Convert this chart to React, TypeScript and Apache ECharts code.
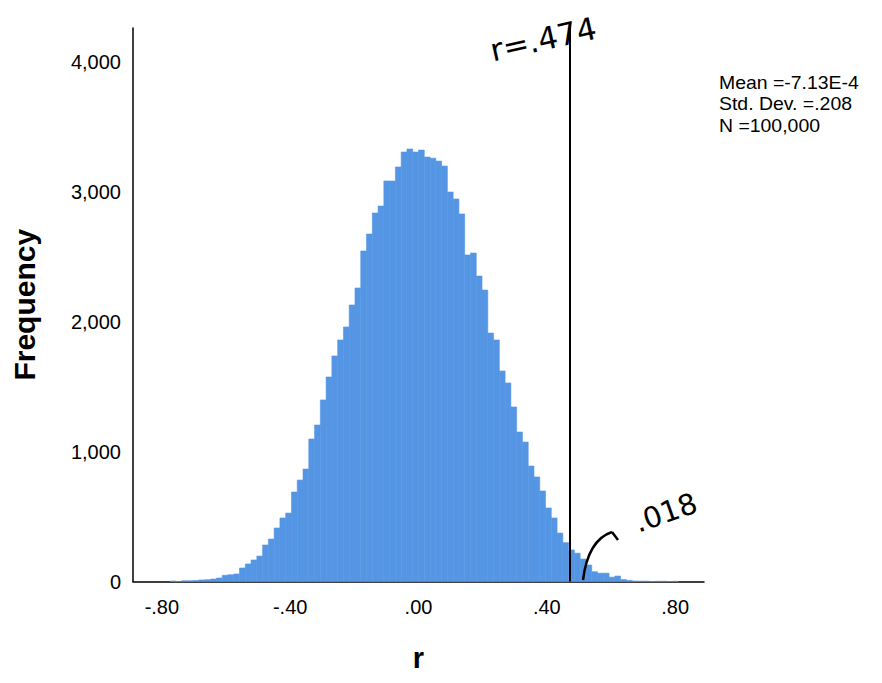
import React, { useEffect, useRef } from "react";
import * as echarts from "echarts";

// Histogram of r (bin width .018), counts per bin
const binWidth = 0.018;
const firstBinStart = -0.774;
const binCounts = [
  4, 0, 6, 6, 8, 12, 14, 19, 27, 48, 52, 58, 104, 135, 166, 196, 281, 327, 412, 489,
  527, 689, 781, 866, 1097, 1205, 1398, 1575, 1737, 1860, 1960, 2129, 2260, 2545, 2676,
  2837, 2891, 3084, 3084, 3192, 3307, 3330, 3307, 3322, 3268, 3260, 3237, 3199, 2999,
  2945, 2830, 2514, 2529, 2352, 2244, 1913, 1860, 1621, 1529, 1344, 1151, 1074, 889,
  805, 697, 566, 489, 373, 299, 243, 218, 173, 127, 75, 64, 64, 33, 42, 15, 9, 4, 3, 3,
  0, 2, 2, 0, 2,
];
const xTickValues = [-0.8, -0.4, 0, 0.4, 0.8];
const yTickValues = [0, 1000, 2000, 3000, 4000];
const observedR = 0.474;
const statsLines = ["Mean =-7.13E-4", "Std. Dev. =.208", "N =100,000"];
const FONT = "'Liberation Sans', Arial, sans-serif";

export default function App() {
  const ref = useRef<HTMLDivElement>(null);
  useEffect(() => {
    if (!ref.current) return;
    const chart = echarts.init(ref.current, null, { renderer: "svg" });
    const data = binCounts.map((c, i) => [firstBinStart + i * binWidth, c]);
    chart.setOption({
      animation: false,
      backgroundColor: "#ffffff",
      grid: { left: 133, right: 178, top: 28, bottom: 101.5 },
      xAxis: {
        type: "value",
        min: -0.89,
        max: 0.89,
        name: "r",
        nameLocation: "middle",
        nameGap: 62,
        nameTextStyle: { fontSize: 29, fontWeight: "bold", color: "#000", fontFamily: FONT },
        axisLine: { show: true, onZero: false, lineStyle: { color: "#000", width: 1.5 } },
        axisTick: { show: false },
        splitLine: { show: false },
        axisLabel: {
          customValues: xTickValues,
          margin: 15,
          fontSize: 20,
          color: "#000",
          fontFamily: FONT,
          formatter: (v: number) => (v < 0 ? "-" : "") + Math.abs(v).toFixed(2).replace(/^0/, ""),
        },
      },
      yAxis: {
        type: "value",
        min: 0,
        max: 4262,
        name: "Frequency",
        nameLocation: "middle",
        nameGap: 94,
        nameRotate: 90,
        nameTextStyle: { fontSize: 30, fontWeight: "bold", color: "#000", fontFamily: FONT },
        axisLine: { show: true, onZero: false, lineStyle: { color: "#000", width: 1.5 } },
        axisTick: { show: false },
        splitLine: { show: false },
        axisLabel: {
          customValues: yTickValues,
          margin: 12,
          fontSize: 20,
          color: "#000",
          fontFamily: FONT,
          formatter: (v: number) => v.toLocaleString("en-US"),
        },
      },
      series: [
        {
          type: "custom",
          data,
          encode: { x: 0, y: 1 },
          renderItem: (params: any, api: any) => {
            const x0 = api.value(0);
            const top = api.coord([x0, api.value(1)]);
            const bottom = api.coord([x0 + binWidth, 0]);
            return {
              type: "rect",
              shape: { x: top[0], y: top[1], width: bottom[0] - top[0], height: bottom[1] - top[1] },
              style: { fill: "#5596e4", stroke: "#5596e4", lineWidth: 0.6 },
            };
          },
          markLine: {
            silent: true,
            symbol: "none",
            label: { show: false },
            lineStyle: { color: "#000", width: 2, type: "solid" },
            data: [{ xAxis: observedR }],
          },
          z: 3,
        },
      ],
      graphic: [
        {
          type: "text",
          left: 719,
          top: 72,
          scaleX: 1.08,
          style: {
            text: statsLines.join("\n"),
            fontSize: 18,
            lineHeight: 21.5,
            fill: "#000",
            fontFamily: FONT,
          },
        },
        {
          type: "text",
          x: 494,
          y: 66,
          rotation: 0.22,
          style: {
            text: "r=.474",
            fontSize: 31,
            fill: "#000",
            fontFamily: "'DejaVu Sans', sans-serif",
            verticalAlign: "bottom",
            align: "left",
          },
        },
        {
          type: "text",
          x: 640,
          y: 537,
          rotation: 0.34,
          style: {
            text: ".018",
            fontSize: 29,
            fill: "#000",
            fontFamily: "'DejaVu Sans', sans-serif",
            verticalAlign: "bottom",
            align: "left",
          },
        },
        {
          type: "bezierCurve",
          shape: { x1: 583, y1: 580, cpx1: 588, cpy1: 540, x2: 612, y2: 532 },
          style: { stroke: "#000", lineWidth: 2.5, fill: null },
          z: 10,
        },
        {
          type: "line",
          shape: { x1: 612, y1: 532, x2: 618, y2: 540 },
          style: { stroke: "#000", lineWidth: 2.5 },
          z: 10,
        },
      ],
    });
    return () => chart.dispose();
  }, []);
  return (
    <div
      ref={ref}
      style={{ position: "fixed", left: 0, top: 0, width: 882, height: 683, background: "#fff" }}
    />
  );
}
